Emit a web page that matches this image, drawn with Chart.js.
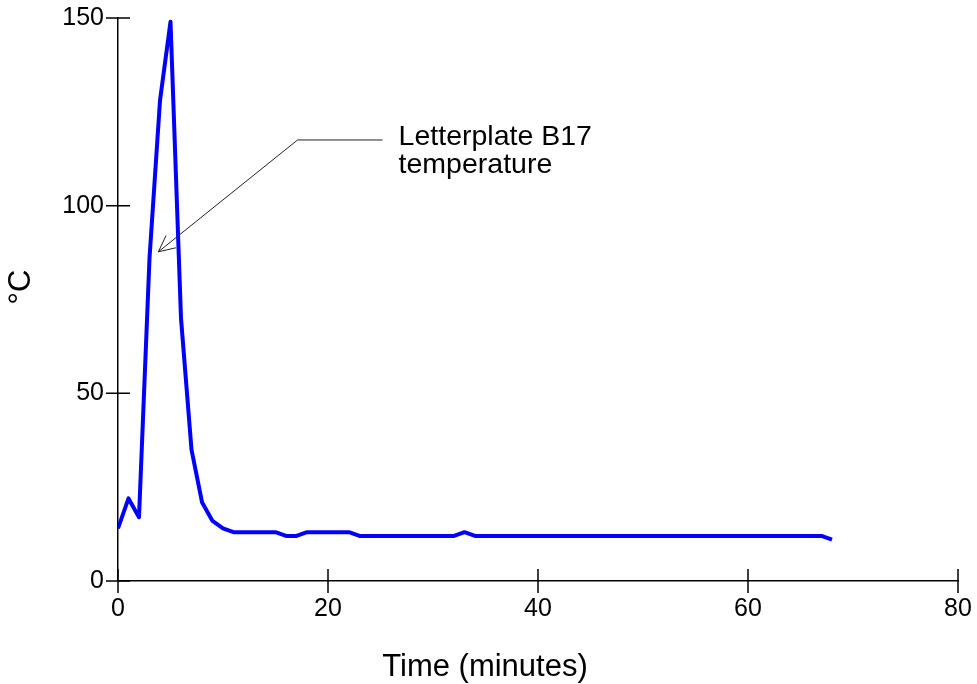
<!DOCTYPE html>
<html>
<head>
<meta charset="utf-8">
<script src="https://cdn.jsdelivr.net/npm/chart.js@4/dist/chart.umd.min.js"></script>
<style>
  html, body { margin: 0; padding: 0; background: #fff; }
  canvas { display: block; }
</style>
</head>
<body>
<canvas id="chart" width="977" height="684"></canvas>
<script>
// time in minutes
const minutes = [
  0, 1, 2, 3, 4, 5, 6, 7, 8, 9, 10, 11, 12, 13, 14, 15, 16, 17, 18, 19,
  20, 21, 22, 23, 24, 25, 26, 27, 28, 29, 30, 31, 32, 33, 34, 35, 36, 37, 38, 39,
  40, 41, 42, 43, 44, 45, 46, 47, 48, 49, 50, 51, 52, 53, 54, 55, 56, 57, 58, 59,
  60, 61, 62, 63, 64, 65, 66, 67, 68
];
// letterplate B17 temperature, degrees C
const temperature = [
  14, 22, 17, 86, 128, 149, 70, 35, 21, 16, 14, 13, 13, 13, 13, 13, 12, 12, 13, 13,
  13, 13, 13, 12, 12, 12, 12, 12, 12, 12, 12, 12, 12, 13, 12, 12, 12, 12, 12, 12,
  12, 12, 12, 12, 12, 12, 12, 12, 12, 12, 12, 12, 12, 12, 12, 12, 12, 12, 12, 12,
  12, 12, 12, 12, 12, 12, 12, 12, 11
];
const xTicks = [0, 20, 40, 60, 80];
const yTicks = [0, 50, 100, 150];

const seriesLabel = 'Letterplate B17 temperature';
const calloutLines = ['Letterplate B17', 'temperature'];
const xTitle = 'Time (minutes)';
const yTitle = '°C';

const FONT = '"Liberation Sans", Arial, sans-serif';
const TICK_FONT = '"Liberation Sans Narrow", "Arial Narrow", "Liberation Sans", sans-serif';

// callout arrow, in data units: tip, elbow, end of the leader
const callout = { tip: [3.84, 87.7], elbow: [17.1, 117.5], end: [25.2, 117.5] };

// the layout should not grow extra room for tick labels
function noPadding(scale) {
  scale.paddingTop = 0;
  scale.paddingBottom = 0;
  scale.paddingLeft = 0;
  scale.paddingRight = 0;
}

// ticks that cross the axis line, plus titles and the callout
const decorations = {
  id: 'decorations',
  afterDraw(chart) {
    const { ctx, chartArea, scales: { x, y } } = chart;
    ctx.save();
    ctx.strokeStyle = '#000';
    ctx.lineWidth = 1.5;
    ctx.beginPath();
    xTicks.forEach(v => {
      const px = x.getPixelForValue(v);
      ctx.moveTo(px, chartArea.bottom - 12);
      ctx.lineTo(px, chartArea.bottom + 12);
    });
    yTicks.forEach(v => {
      const py = y.getPixelForValue(v);
      ctx.moveTo(chartArea.left - 12, py);
      ctx.lineTo(chartArea.left + 12, py);
    });
    ctx.stroke();

    // callout
    const tx = x.getPixelForValue(callout.tip[0]), ty = y.getPixelForValue(callout.tip[1]);
    const ex = x.getPixelForValue(callout.elbow[0]), ey = y.getPixelForValue(callout.elbow[1]);
    const lx = x.getPixelForValue(callout.end[0]);
    ctx.strokeStyle = '#222';
    ctx.lineWidth = 1;
    ctx.beginPath();
    ctx.moveTo(lx, ey);
    ctx.lineTo(ex, ey);
    ctx.lineTo(tx, ty);
    const ang = Math.atan2(ty - ey, tx - ex);
    const head = 18;
    [0.45, -0.45].forEach(a => {
      ctx.moveTo(tx, ty);
      ctx.lineTo(tx - head * Math.cos(ang + a), ty - head * Math.sin(ang + a));
    });
    ctx.stroke();

    ctx.fillStyle = '#000';
    ctx.font = '28.5px ' + FONT;
    ctx.textAlign = 'left';
    ctx.textBaseline = 'alphabetic';
    ctx.fillText(calloutLines[0], lx + 16, ey + 5);
    ctx.fillText(calloutLines[1], lx + 16, ey + 33);

    // axis titles
    ctx.font = '31px ' + FONT;
    ctx.textAlign = 'center';
    ctx.fillText(xTitle, 485, 676);
    ctx.translate(30, 287);
    ctx.rotate(-Math.PI / 2);
    ctx.fillText(yTitle, 0, 0);
    ctx.restore();
  }
};

new Chart(document.getElementById('chart'), {
  type: 'line',
  data: {
    labels: minutes,
    datasets: [{
      label: seriesLabel,
      data: minutes.map((m, i) => ({ x: m, y: temperature[i] })),
      borderColor: '#0000ff',
      borderWidth: 4,
      pointRadius: 0,
      tension: 0,
      fill: false,
      borderJoinStyle: 'round'
    }]
  },
  options: {
    responsive: false,
    animation: false,
    layout: { padding: { top: 18, right: 19, left: 0, bottom: 0 } },
    plugins: {
      legend: { display: false },
      tooltip: { enabled: false }
    },
    scales: {
      x: {
        type: 'linear',
        min: 0,
        max: 80,
        afterFit: (scale) => { scale.height = 103; noPadding(scale); },
        afterBuildTicks: (scale) => { scale.ticks = xTicks.map(v => ({ value: v })); },
        grid: { display: false, drawTicks: false },
        border: { display: true, color: '#000', width: 1.5 },
        ticks: { color: '#000', padding: 13, maxRotation: 0, font: { family: TICK_FONT, size: 25 } }
      },
      y: {
        type: 'linear',
        min: 0,
        max: 150,
        afterFit: (scale) => { scale.width = 118; noPadding(scale); },
        afterBuildTicks: (scale) => { scale.ticks = yTicks.map(v => ({ value: v })); },
        grid: { display: false, drawTicks: false },
        border: { display: true, color: '#000', width: 1.5 },
        ticks: { color: '#000', padding: 14, font: { family: TICK_FONT, size: 25 } }
      }
    }
  },
  plugins: [decorations]
});
</script>
</body>
</html>
